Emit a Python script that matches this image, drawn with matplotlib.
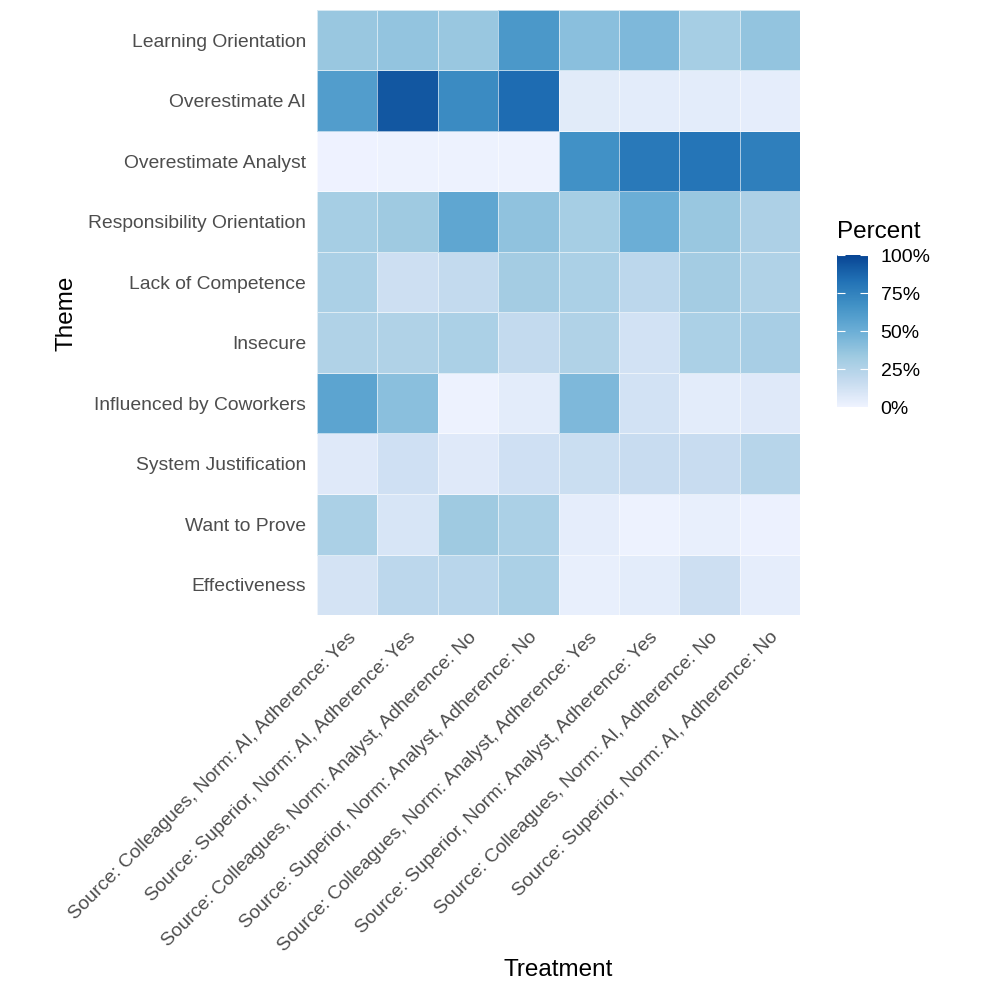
import numpy as np
import matplotlib
matplotlib.use("Agg")
import matplotlib.pyplot as plt
from matplotlib.colors import LinearSegmentedColormap

plt.rcParams['font.family'] = ['Liberation Sans', 'DejaVu Sans']

themes = ["Learning Orientation", "Overestimate AI", "Overestimate Analyst",
          "Responsibility Orientation", "Lack of Competence", "Insecure",
          "Influenced by Coworkers", "System Justification", "Want to Prove",
          "Effectiveness"]

treatments = ["Source: Colleagues, Norm: AI, Adherence: Yes",
              "Source: Superior, Norm: AI, Adherence: Yes",
              "Source: Colleagues, Norm: Analyst, Adherence: No",
              "Source: Superior, Norm: Analyst, Adherence: No",
              "Source: Colleagues, Norm: Analyst, Adherence: Yes",
              "Source: Superior, Norm: Analyst, Adherence: Yes",
              "Source: Colleagues, Norm: AI, Adherence: No",
              "Source: Superior, Norm: AI, Adherence: No"]

# percent per theme (rows) and treatment (columns)
learning = [35, 37, 35, 63, 40, 44, 30, 37]
over_ai = [60, 93, 70, 85, 6, 5, 5, 4]
over_analyst = [0.5, 1, 1, 1, 67, 79, 81, 76]
responsibility = [30, 33, 55, 38, 30, 50, 35, 27]
competence = [28, 14, 18, 31, 28, 21, 31, 26]
insecure = [26, 26, 28, 18, 26, 12, 28, 29]
coworkers = [56, 40, 1, 5, 44, 12, 5, 7]
system_just = [7, 13, 7, 13, 15, 16, 16, 23]
want_prove = [28, 10, 33, 28, 4, 1, 3, 1.5]
effectiveness = [11, 21, 22, 28, 3, 5, 14, 4]

values = np.array([learning, over_ai, over_analyst, responsibility, competence,
                   insecure, coworkers, system_just, want_prove, effectiveness])

blues = ["#EFF3FF", "#C6DBEF", "#9ECAE1", "#6BAED6", "#4292C6", "#2171B5", "#084594"]
cmap = LinearSegmentedColormap.from_list("blues7", blues)

fig = plt.figure(figsize=(9.97, 9.97), dpi=100)
ax = fig.add_axes([317/997, 1-615/997, 483/997, 605/997])

mesh = ax.pcolormesh(np.arange(len(treatments)+1), np.arange(len(themes)+1),
                     values[::-1], cmap=cmap, vmin=0, vmax=100,
                     edgecolors=(1, 1, 1, 0.6), linewidth=0.6)

ax.set_xlim(0, len(treatments))
ax.set_ylim(0, len(themes))
ax.set_yticks(np.arange(len(themes)) + 0.5)
ax.set_yticklabels(themes[::-1], fontsize=13.9, color="#4D4D4D")
ax.set_xticks(np.arange(len(treatments)) + 0.5)
ax.set_xticklabels(treatments, rotation=45, ha="right", rotation_mode="anchor",
                   fontsize=13.9, color="#4D4D4D")
ax.tick_params(axis="y", length=0, pad=8)
ax.tick_params(axis="x", length=0, pad=10)
for s in ax.spines.values():
    s.set_visible(False)

fig.text(66/997, 1-313/997, "Theme", fontsize=17.5, rotation=90, ha="center", va="center")
fig.text(558/997, 1-970/997, "Treatment", fontsize=17.5, ha="center", va="center")

cax = fig.add_axes([837/997, 1-407/997, 31/997, 152/997])
cb = fig.colorbar(mesh, cax=cax, ticks=[0, 25, 50, 75, 100])
cb.outline.set_visible(False)
cb.ax.set_yticklabels(["0%", "25%", "50%", "75%", "100%"], fontsize=14)
cb.ax.tick_params(direction="in", color="white", length=6, width=0.8,
                  left=True, right=True, labelleft=False, labelright=True, pad=9)
fig.text(837/997, 1-232/997, "Percent", fontsize=17.5, va="center", ha="left")

fig.savefig("out.png", dpi=100)
